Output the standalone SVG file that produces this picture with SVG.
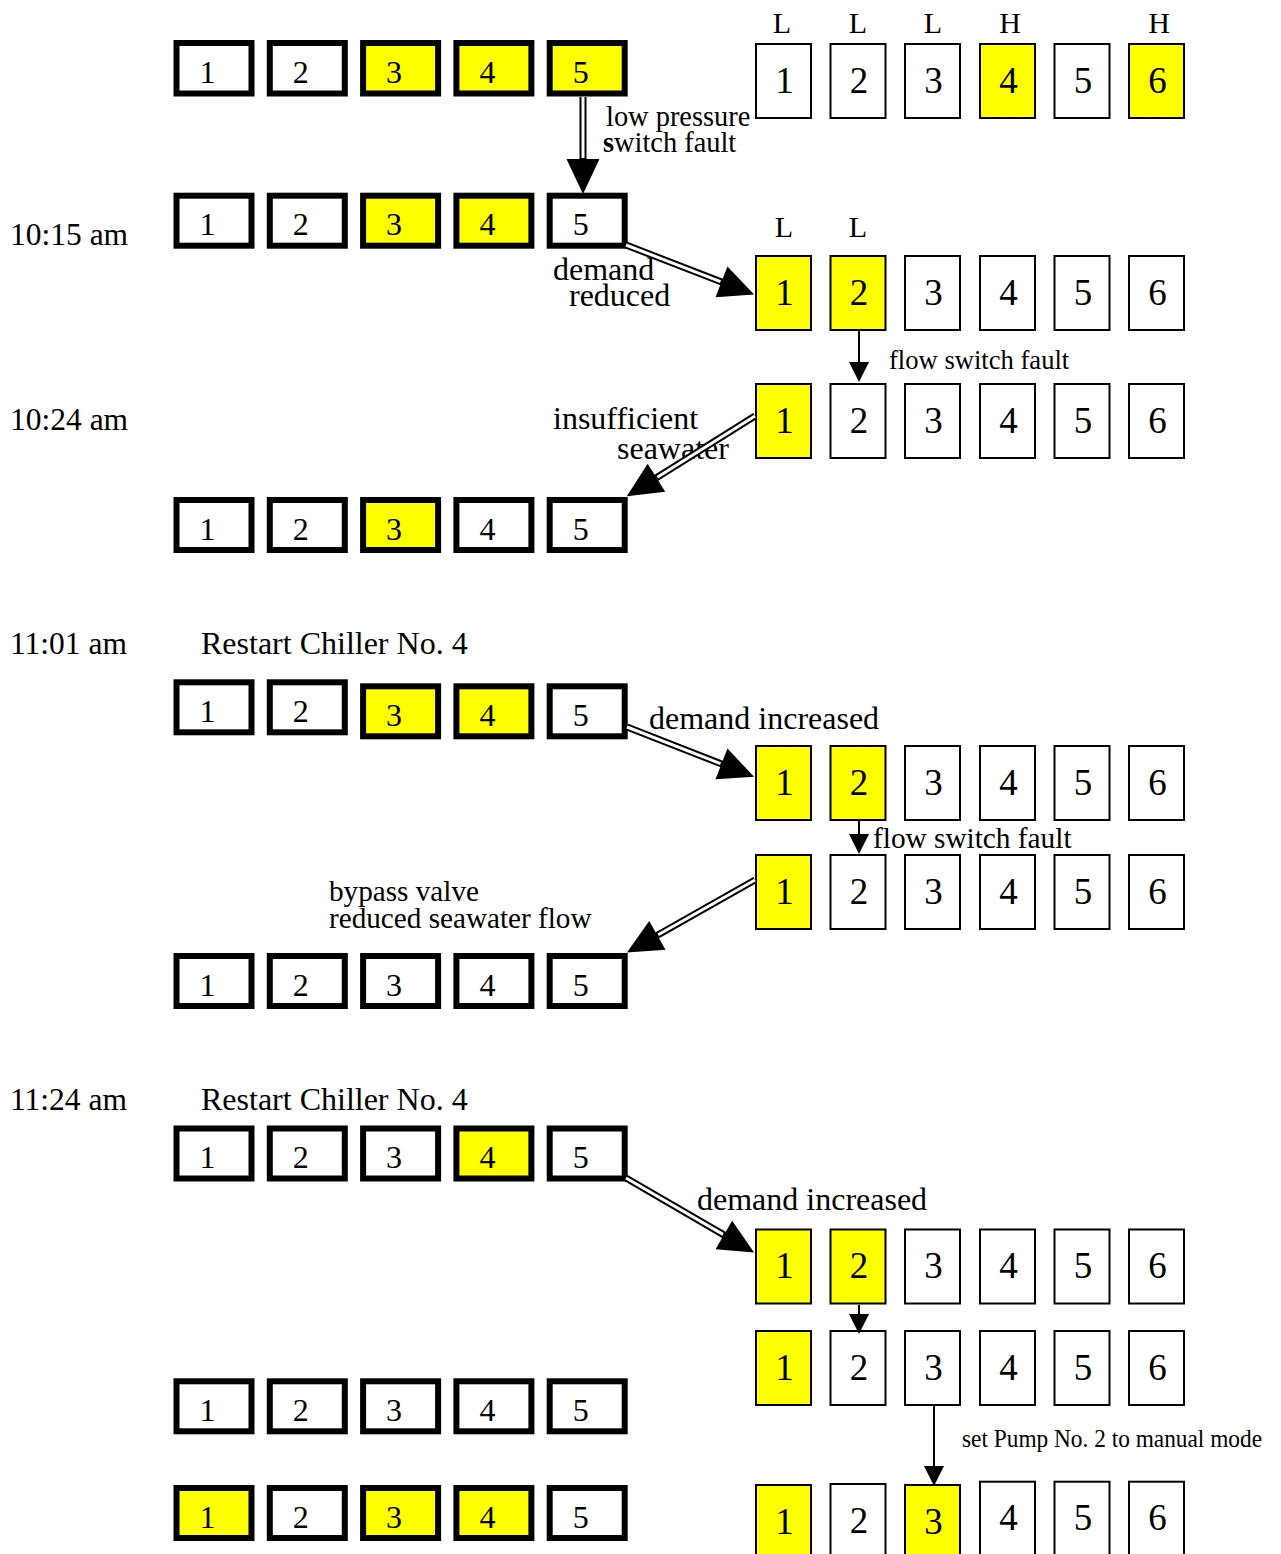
<svg xmlns="http://www.w3.org/2000/svg" width="1281" height="1554" viewBox="0 0 1281 1554">
  <style>
    text { font-family: "Liberation Serif", "Times New Roman", serif; fill: #000; }
    .ch { fill: #fff; stroke: #000; stroke-width: 6; }
    .pm { fill: #fff; stroke: #000; stroke-width: 2; }
    .on { fill: #ff0; }
    .cd { font-size: 32px; text-anchor: middle; }
    .pd { font-size: 37px; text-anchor: middle; }
    .lvl { font-size: 30px; text-anchor: middle; }
    .lbl { font-size: 32px; }
    .time { font-size: 31.5px; }
    .sm { font-size: 28.4px; }
    .outer { fill: none; stroke: #000; stroke-width: 7; marker-end: url(#bighead); }
    .inner { fill: none; stroke: #fff; stroke-width: 3; }
    .thin { fill: none; stroke: #000; stroke-width: 2; marker-end: url(#smallhead); }
  </style>
  <defs>
    <marker id="bighead" markerUnits="userSpaceOnUse" viewBox="0 0 35 33" refX="1" refY="16.5" markerWidth="35" markerHeight="33" orient="auto" overflow="visible">
      <path d="M0,0 L35,16.5 L0,33 Z" fill="#000"/>
    </marker>
    <marker id="smallhead" markerUnits="userSpaceOnUse" viewBox="0 0 20 20" refX="1" refY="10" markerWidth="20" markerHeight="20" orient="auto" overflow="visible">
      <path d="M0,0 L20,10 L0,20 Z" fill="#000"/>
    </marker>
  </defs>

  <!-- time stamps and notes -->
  <g id="labels">
    <text class="time" x="10" y="245">10:15 am</text>
    <text class="time" x="10" y="430">10:24 am</text>
    <text class="time" x="10" y="654">11:01 am</text>
    <text class="time" x="10" y="1110">11:24 am</text>
    <text class="lbl" x="201" y="654">Restart Chiller No. 4</text>
    <text class="lbl" x="201" y="1110">Restart Chiller No. 4</text>
    <text class="lvl" x="782" y="33">L</text>
    <text class="lvl" x="858" y="33">L</text>
    <text class="lvl" x="933" y="33">L</text>
    <text class="lvl" x="1010" y="33">H</text>
    <text class="lvl" x="1159" y="33">H</text>
    <text class="lvl" x="784" y="237">L</text>
    <text class="lvl" x="858" y="237">L</text>
    <text class="sm" x="606" y="126">low pressure</text>
    <text class="sm" x="603" y="152"><tspan font-weight="bold">s</tspan>witch fault</text>
    <text class="lbl" x="553" y="280">demand</text>
    <text class="lbl" x="569" y="306">reduced</text>
    <text class="sm" x="889" y="369" style="font-size:26.6px">flow switch fault</text>
    <text class="lbl" x="553" y="429">insufficient</text>
    <text class="lbl" x="617" y="459">seawater</text>
    <text class="lbl" x="649" y="729">demand increased</text>
    <text class="sm" x="873" y="848" style="font-size:29.3px">flow switch fault</text>
    <text class="sm" x="329" y="901" style="font-size:29.2px">bypass valve</text>
    <text class="sm" x="329" y="928" style="font-size:29.2px">reduced seawater flow</text>
    <text class="lbl" x="697" y="1210">demand increased</text>
    <text class="sm" x="962" y="1447" style="font-size:26px" textLength="300" lengthAdjust="spacingAndGlyphs">set Pump No. 2 to manual mode</text>
  </g>

  <!-- chiller rows (left) -->
  <g id="chillers-r1">
    <g id="c1-1" transform="translate(173.5,40)"><rect class="ch" x="3" y="3" width="75" height="50.5"/><text class="cd" x="34" y="42.5">1</text></g>
    <g id="c1-2" transform="translate(266.8,40)"><rect class="ch" x="3" y="3" width="75" height="50.5"/><text class="cd" x="34" y="42.5">2</text></g>
    <g id="c1-3" transform="translate(360.1,40)"><rect class="ch on" x="3" y="3" width="75" height="50.5"/><text class="cd" x="34" y="42.5">3</text></g>
    <g id="c1-4" transform="translate(453.4,40)"><rect class="ch on" x="3" y="3" width="75" height="50.5"/><text class="cd" x="34" y="42.5">4</text></g>
    <g id="c1-5" transform="translate(546.7,40)"><rect class="ch on" x="3" y="3" width="75" height="50.5"/><text class="cd" x="34" y="42.5">5</text></g>
  </g>
  <g id="chillers-r2">
    <g id="c2-1" transform="translate(173.5,192.7)"><rect class="ch" x="3" y="3" width="75" height="50"/><text class="cd" x="34" y="42.5">1</text></g>
    <g id="c2-2" transform="translate(266.8,192.7)"><rect class="ch" x="3" y="3" width="75" height="50"/><text class="cd" x="34" y="42.5">2</text></g>
    <g id="c2-3" transform="translate(360.1,192.7)"><rect class="ch on" x="3" y="3" width="75" height="50"/><text class="cd" x="34" y="42.5">3</text></g>
    <g id="c2-4" transform="translate(453.4,192.7)"><rect class="ch on" x="3" y="3" width="75" height="50"/><text class="cd" x="34" y="42.5">4</text></g>
    <g id="c2-5" transform="translate(546.7,192.7)"><rect class="ch" x="3" y="3" width="75" height="50"/><text class="cd" x="34" y="42.5">5</text></g>
  </g>
  <g id="chillers-r3">
    <g id="c3-1" transform="translate(173.5,497)"><rect class="ch" x="3" y="3" width="75" height="50"/><text class="cd" x="34" y="42.5">1</text></g>
    <g id="c3-2" transform="translate(266.8,497)"><rect class="ch" x="3" y="3" width="75" height="50"/><text class="cd" x="34" y="42.5">2</text></g>
    <g id="c3-3" transform="translate(360.1,497)"><rect class="ch on" x="3" y="3" width="75" height="50"/><text class="cd" x="34" y="42.5">3</text></g>
    <g id="c3-4" transform="translate(453.4,497)"><rect class="ch" x="3" y="3" width="75" height="50"/><text class="cd" x="34" y="42.5">4</text></g>
    <g id="c3-5" transform="translate(546.7,497)"><rect class="ch" x="3" y="3" width="75" height="50"/><text class="cd" x="34" y="42.5">5</text></g>
  </g>
  <g id="chillers-r4">
    <g id="c4-1" transform="translate(173.5,679.3)"><rect class="ch" x="3" y="3" width="75" height="50"/><text class="cd" x="34" y="42.5">1</text></g>
    <g id="c4-2" transform="translate(266.8,679.3)"><rect class="ch" x="3" y="3" width="75" height="50"/><text class="cd" x="34" y="42.5">2</text></g>
    <g id="c4-3" transform="translate(360.1,683.3)"><rect class="ch on" x="3" y="3" width="75" height="50"/><text class="cd" x="34" y="42.5">3</text></g>
    <g id="c4-4" transform="translate(453.4,683.3)"><rect class="ch on" x="3" y="3" width="75" height="50"/><text class="cd" x="34" y="42.5">4</text></g>
    <g id="c4-5" transform="translate(546.7,683.3)"><rect class="ch" x="3" y="3" width="75" height="50"/><text class="cd" x="34" y="42.5">5</text></g>
  </g>
  <g id="chillers-r5">
    <g id="c5-1" transform="translate(173.5,953)"><rect class="ch" x="3" y="3" width="75" height="50"/><text class="cd" x="34" y="42.5">1</text></g>
    <g id="c5-2" transform="translate(266.8,953)"><rect class="ch" x="3" y="3" width="75" height="50"/><text class="cd" x="34" y="42.5">2</text></g>
    <g id="c5-3" transform="translate(360.1,953)"><rect class="ch" x="3" y="3" width="75" height="50"/><text class="cd" x="34" y="42.5">3</text></g>
    <g id="c5-4" transform="translate(453.4,953)"><rect class="ch" x="3" y="3" width="75" height="50"/><text class="cd" x="34" y="42.5">4</text></g>
    <g id="c5-5" transform="translate(546.7,953)"><rect class="ch" x="3" y="3" width="75" height="50"/><text class="cd" x="34" y="42.5">5</text></g>
  </g>
  <g id="chillers-r6">
    <g id="c6-1" transform="translate(173.5,1125.5)"><rect class="ch" x="3" y="3" width="75" height="50"/><text class="cd" x="34" y="42.5">1</text></g>
    <g id="c6-2" transform="translate(266.8,1125.5)"><rect class="ch" x="3" y="3" width="75" height="50"/><text class="cd" x="34" y="42.5">2</text></g>
    <g id="c6-3" transform="translate(360.1,1125.5)"><rect class="ch" x="3" y="3" width="75" height="50"/><text class="cd" x="34" y="42.5">3</text></g>
    <g id="c6-4" transform="translate(453.4,1125.5)"><rect class="ch on" x="3" y="3" width="75" height="50"/><text class="cd" x="34" y="42.5">4</text></g>
    <g id="c6-5" transform="translate(546.7,1125.5)"><rect class="ch" x="3" y="3" width="75" height="50"/><text class="cd" x="34" y="42.5">5</text></g>
  </g>
  <g id="chillers-r7">
    <g id="c7-1" transform="translate(173.5,1378.3)"><rect class="ch" x="3" y="3" width="75" height="50"/><text class="cd" x="34" y="42.5">1</text></g>
    <g id="c7-2" transform="translate(266.8,1378.3)"><rect class="ch" x="3" y="3" width="75" height="50"/><text class="cd" x="34" y="42.5">2</text></g>
    <g id="c7-3" transform="translate(360.1,1378.3)"><rect class="ch" x="3" y="3" width="75" height="50"/><text class="cd" x="34" y="42.5">3</text></g>
    <g id="c7-4" transform="translate(453.4,1378.3)"><rect class="ch" x="3" y="3" width="75" height="50"/><text class="cd" x="34" y="42.5">4</text></g>
    <g id="c7-5" transform="translate(546.7,1378.3)"><rect class="ch" x="3" y="3" width="75" height="50"/><text class="cd" x="34" y="42.5">5</text></g>
  </g>
  <g id="chillers-r8">
    <g id="c8-1" transform="translate(173.5,1485)"><rect class="ch on" x="3" y="3" width="75" height="50"/><text class="cd" x="34" y="42.5">1</text></g>
    <g id="c8-2" transform="translate(266.8,1485)"><rect class="ch" x="3" y="3" width="75" height="50"/><text class="cd" x="34" y="42.5">2</text></g>
    <g id="c8-3" transform="translate(360.1,1485)"><rect class="ch on" x="3" y="3" width="75" height="50"/><text class="cd" x="34" y="42.5">3</text></g>
    <g id="c8-4" transform="translate(453.4,1485)"><rect class="ch on" x="3" y="3" width="75" height="50"/><text class="cd" x="34" y="42.5">4</text></g>
    <g id="c8-5" transform="translate(546.7,1485)"><rect class="ch" x="3" y="3" width="75" height="50"/><text class="cd" x="34" y="42.5">5</text></g>
  </g>

  <!-- pump rows (right) -->
  <g id="pumps-r1">
    <g id="p1-1" transform="translate(755,43)"><rect class="pm" x="1" y="1" width="55" height="74"/><text class="pd" x="29.5" y="49.5">1</text></g>
    <g id="p1-2" transform="translate(829.5,43)"><rect class="pm" x="1" y="1" width="55" height="74"/><text class="pd" x="29.5" y="49.5">2</text></g>
    <g id="p1-3" transform="translate(904,43)"><rect class="pm" x="1" y="1" width="55" height="74"/><text class="pd" x="29.5" y="49.5">3</text></g>
    <g id="p1-4" transform="translate(979,43)"><rect class="pm on" x="1" y="1" width="55" height="74"/><text class="pd" x="29.5" y="49.5">4</text></g>
    <g id="p1-5" transform="translate(1053.5,43)"><rect class="pm" x="1" y="1" width="55" height="74"/><text class="pd" x="29.5" y="49.5">5</text></g>
    <g id="p1-6" transform="translate(1128,43)"><rect class="pm on" x="1" y="1" width="55" height="74"/><text class="pd" x="29.5" y="49.5">6</text></g>
  </g>
  <g id="pumps-r2">
    <g id="p2-1" transform="translate(755,255)"><rect class="pm on" x="1" y="1" width="55" height="74"/><text class="pd" x="29.5" y="49.5">1</text></g>
    <g id="p2-2" transform="translate(829.5,255)"><rect class="pm on" x="1" y="1" width="55" height="74"/><text class="pd" x="29.5" y="49.5">2</text></g>
    <g id="p2-3" transform="translate(904,255)"><rect class="pm" x="1" y="1" width="55" height="74"/><text class="pd" x="29.5" y="49.5">3</text></g>
    <g id="p2-4" transform="translate(979,255)"><rect class="pm" x="1" y="1" width="55" height="74"/><text class="pd" x="29.5" y="49.5">4</text></g>
    <g id="p2-5" transform="translate(1053.5,255)"><rect class="pm" x="1" y="1" width="55" height="74"/><text class="pd" x="29.5" y="49.5">5</text></g>
    <g id="p2-6" transform="translate(1128,255)"><rect class="pm" x="1" y="1" width="55" height="74"/><text class="pd" x="29.5" y="49.5">6</text></g>
  </g>
  <g id="pumps-r3">
    <g id="p3-1" transform="translate(755,383)"><rect class="pm on" x="1" y="1" width="55" height="74"/><text class="pd" x="29.5" y="49.5">1</text></g>
    <g id="p3-2" transform="translate(829.5,383)"><rect class="pm" x="1" y="1" width="55" height="74"/><text class="pd" x="29.5" y="49.5">2</text></g>
    <g id="p3-3" transform="translate(904,383)"><rect class="pm" x="1" y="1" width="55" height="74"/><text class="pd" x="29.5" y="49.5">3</text></g>
    <g id="p3-4" transform="translate(979,383)"><rect class="pm" x="1" y="1" width="55" height="74"/><text class="pd" x="29.5" y="49.5">4</text></g>
    <g id="p3-5" transform="translate(1053.5,383)"><rect class="pm" x="1" y="1" width="55" height="74"/><text class="pd" x="29.5" y="49.5">5</text></g>
    <g id="p3-6" transform="translate(1128,383)"><rect class="pm" x="1" y="1" width="55" height="74"/><text class="pd" x="29.5" y="49.5">6</text></g>
  </g>
  <g id="pumps-r4">
    <g id="p4-1" transform="translate(755,745)"><rect class="pm on" x="1" y="1" width="55" height="74"/><text class="pd" x="29.5" y="49.5">1</text></g>
    <g id="p4-2" transform="translate(829.5,745)"><rect class="pm on" x="1" y="1" width="55" height="74"/><text class="pd" x="29.5" y="49.5">2</text></g>
    <g id="p4-3" transform="translate(904,745)"><rect class="pm" x="1" y="1" width="55" height="74"/><text class="pd" x="29.5" y="49.5">3</text></g>
    <g id="p4-4" transform="translate(979,745)"><rect class="pm" x="1" y="1" width="55" height="74"/><text class="pd" x="29.5" y="49.5">4</text></g>
    <g id="p4-5" transform="translate(1053.5,745)"><rect class="pm" x="1" y="1" width="55" height="74"/><text class="pd" x="29.5" y="49.5">5</text></g>
    <g id="p4-6" transform="translate(1128,745)"><rect class="pm" x="1" y="1" width="55" height="74"/><text class="pd" x="29.5" y="49.5">6</text></g>
  </g>
  <g id="pumps-r5">
    <g id="p5-1" transform="translate(755,854)"><rect class="pm on" x="1" y="1" width="55" height="74"/><text class="pd" x="29.5" y="49.5">1</text></g>
    <g id="p5-2" transform="translate(829.5,854)"><rect class="pm" x="1" y="1" width="55" height="74"/><text class="pd" x="29.5" y="49.5">2</text></g>
    <g id="p5-3" transform="translate(904,854)"><rect class="pm" x="1" y="1" width="55" height="74"/><text class="pd" x="29.5" y="49.5">3</text></g>
    <g id="p5-4" transform="translate(979,854)"><rect class="pm" x="1" y="1" width="55" height="74"/><text class="pd" x="29.5" y="49.5">4</text></g>
    <g id="p5-5" transform="translate(1053.5,854)"><rect class="pm" x="1" y="1" width="55" height="74"/><text class="pd" x="29.5" y="49.5">5</text></g>
    <g id="p5-6" transform="translate(1128,854)"><rect class="pm" x="1" y="1" width="55" height="74"/><text class="pd" x="29.5" y="49.5">6</text></g>
  </g>
  <g id="pumps-r6">
    <g id="p6-1" transform="translate(755,1228.5)"><rect class="pm on" x="1" y="1" width="55" height="74"/><text class="pd" x="29.5" y="49.5">1</text></g>
    <g id="p6-2" transform="translate(829.5,1228.5)"><rect class="pm on" x="1" y="1" width="55" height="74"/><text class="pd" x="29.5" y="49.5">2</text></g>
    <g id="p6-3" transform="translate(904,1228.5)"><rect class="pm" x="1" y="1" width="55" height="74"/><text class="pd" x="29.5" y="49.5">3</text></g>
    <g id="p6-4" transform="translate(979,1228.5)"><rect class="pm" x="1" y="1" width="55" height="74"/><text class="pd" x="29.5" y="49.5">4</text></g>
    <g id="p6-5" transform="translate(1053.5,1228.5)"><rect class="pm" x="1" y="1" width="55" height="74"/><text class="pd" x="29.5" y="49.5">5</text></g>
    <g id="p6-6" transform="translate(1128,1228.5)"><rect class="pm" x="1" y="1" width="55" height="74"/><text class="pd" x="29.5" y="49.5">6</text></g>
  </g>
  <g id="pumps-r7">
    <g id="p7-1" transform="translate(755,1330)"><rect class="pm on" x="1" y="1" width="55" height="74"/><text class="pd" x="29.5" y="49.5">1</text></g>
    <g id="p7-2" transform="translate(829.5,1330)"><rect class="pm" x="1" y="1" width="55" height="74"/><text class="pd" x="29.5" y="49.5">2</text></g>
    <g id="p7-3" transform="translate(904,1330)"><rect class="pm" x="1" y="1" width="55" height="74"/><text class="pd" x="29.5" y="49.5">3</text></g>
    <g id="p7-4" transform="translate(979,1330)"><rect class="pm" x="1" y="1" width="55" height="74"/><text class="pd" x="29.5" y="49.5">4</text></g>
    <g id="p7-5" transform="translate(1053.5,1330)"><rect class="pm" x="1" y="1" width="55" height="74"/><text class="pd" x="29.5" y="49.5">5</text></g>
    <g id="p7-6" transform="translate(1128,1330)"><rect class="pm" x="1" y="1" width="55" height="74"/><text class="pd" x="29.5" y="49.5">6</text></g>
  </g>
  <g id="pumps-r8">
    <g id="p8-1" transform="translate(755,1484)"><rect class="pm on" x="1" y="1" width="55" height="74"/><text class="pd" x="29.5" y="49.5">1</text></g>
    <g id="p8-2" transform="translate(829.5,1483)"><rect class="pm" x="1" y="1" width="55" height="74"/><text class="pd" x="29.5" y="49.5">2</text></g>
    <g id="p8-3" transform="translate(904,1484)"><rect class="pm on" x="1" y="1" width="55" height="74"/><text class="pd" x="29.5" y="49.5">3</text></g>
    <g id="p8-4" transform="translate(979,1480.7)"><rect class="pm" x="1" y="1" width="55" height="74"/><text class="pd" x="29.5" y="49.5">4</text></g>
    <g id="p8-5" transform="translate(1053.5,1480.7)"><rect class="pm" x="1" y="1" width="55" height="74"/><text class="pd" x="29.5" y="49.5">5</text></g>
    <g id="p8-6" transform="translate(1128,1480.7)"><rect class="pm" x="1" y="1" width="55" height="74"/><text class="pd" x="29.5" y="49.5">6</text></g>
  </g>

  <!-- connectors: hollow double-line arrows and thin arrows -->
  <g id="connectors">
    <g id="a-lowpressure">
      <line class="outer" x1="583" y1="97" x2="583" y2="160"/>
      <line class="inner" x1="583" y1="97" x2="583" y2="158"/>
    </g>
    <g id="a-demandreduced">
      <line class="outer" x1="626" y1="245" x2="722.4" y2="282.3"/>
      <line class="inner" x1="626" y1="245" x2="720.5" y2="281.6"/>
    </g>
    <g id="a-insufficient">
      <line class="outer" x1="755" y1="416" x2="655.6" y2="478.3"/>
      <line class="inner" x1="755" y1="416" x2="657.3" y2="477.2"/>
    </g>
    <g id="a-increased1">
      <line class="outer" x1="627" y1="727" x2="722.4" y2="764.3"/>
      <line class="inner" x1="627" y1="727" x2="720.5" y2="763.6"/>
    </g>
    <g id="a-bypass">
      <line class="outer" x1="755" y1="880" x2="656.5" y2="935.8"/>
      <line class="inner" x1="755" y1="880" x2="658.2" y2="934.8"/>
    </g>
    <g id="a-increased2">
      <line class="outer" x1="626" y1="1178" x2="724.7" y2="1235.4"/>
      <line class="inner" x1="626" y1="1178" x2="723" y2="1234.4"/>
    </g>
    <line id="a-flow1" class="thin" x1="859" y1="331" x2="859" y2="363"/>
    <line id="a-flow2" class="thin" x1="859" y1="821" x2="859" y2="835"/>
    <line id="a-pump2" class="thin" x1="859" y1="1305" x2="859" y2="1315"/>
    <line id="a-manual" class="thin" x1="934" y1="1406" x2="934" y2="1467"/>
  </g>
</svg>
